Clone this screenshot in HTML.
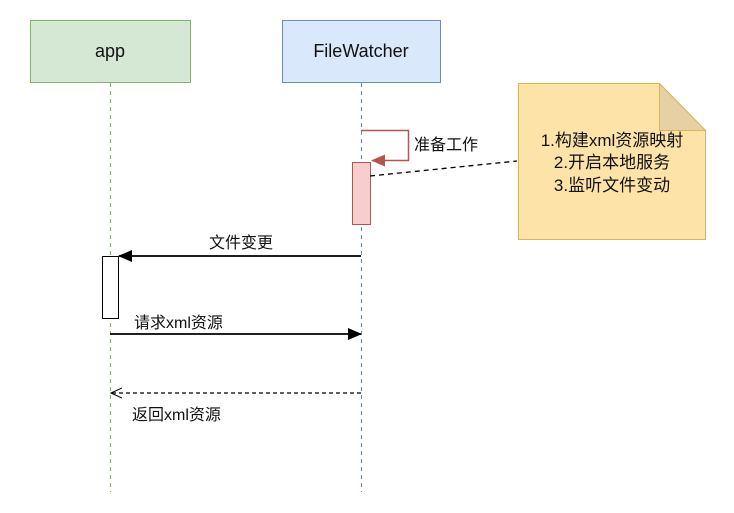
<!DOCTYPE html>
<html><head><meta charset="utf-8"><style>
body{margin:0;background:#fff;}
text{font-family:"Liberation Sans","Noto Sans CJK SC",sans-serif;fill:#111;}
</style></head><body>
<svg width="734" height="508" xmlns="http://www.w3.org/2000/svg">
<defs>
<marker id="fa" markerWidth="14" markerHeight="12" refX="13" refY="6" orient="auto" markerUnits="userSpaceOnUse"><path d="M0,0 L14,6 L0,12 Z" fill="#000"/></marker>
<marker id="ra" markerWidth="14" markerHeight="12" refX="13" refY="6" orient="auto" markerUnits="userSpaceOnUse"><path d="M0,0 L14,6 L0,12 Z" fill="#b85450"/></marker>
<marker id="oa" markerWidth="12" markerHeight="12" refX="11" refY="6" orient="auto" markerUnits="userSpaceOnUse"><path d="M0,1 L11,6 L0,11" fill="none" stroke="#000" stroke-width="1"/></marker>
</defs>
<rect x="30.5" y="20.5" width="160" height="62" fill="#d5e8d4" stroke="#82b366"/>
<text x="110" y="57" font-size="18" text-anchor="middle">app</text>
<rect x="282.5" y="20.5" width="158" height="62" fill="#dae8fc" stroke="#6c8ebf"/>
<text x="361" y="57" font-size="18" text-anchor="middle">FileWatcher</text>
<line x1="110.5" y1="83" x2="110.5" y2="492" stroke="#82b366" stroke-dasharray="4,4"/>
<line x1="361.5" y1="83" x2="361.5" y2="492" stroke="#6c8ebf" stroke-dasharray="4,4"/>
<path d="M361,130.5 H408.5 V160.5 H372" fill="none" stroke="#b85450" stroke-width="1.5" marker-end="url(#ra)"/>
<text x="414" y="150" font-size="16">准备工作</text>
<rect x="352.5" y="162.5" width="18" height="62" fill="#f8cecc" stroke="#b85450"/>
<line x1="370" y1="176" x2="517" y2="161" stroke="#000" stroke-width="1.3" stroke-dasharray="5,4"/>
<path d="M518.5,83.5 H659.5 L705.5,130.5 V239.5 H518.5 Z" fill="#fde3a8" stroke="#d6b656"/>
<path d="M659.5,83.5 V130.5 H705.5 Z" fill="#e6d0a4" stroke="#d6b656"/>
<text x="612" y="146" font-size="17" text-anchor="middle">1.构建xml资源映射</text>
<text x="612" y="168" font-size="17" text-anchor="middle">2.开启本地服务</text>
<text x="612" y="191" font-size="17" text-anchor="middle">3.监听文件变动</text>
<line x1="361" y1="256" x2="119" y2="256" stroke="#000" stroke-width="1.8" marker-end="url(#fa)"/>
<text x="241" y="248" font-size="16" text-anchor="middle">文件变更</text>
<rect x="102.5" y="256.5" width="16" height="62" fill="#fff" stroke="#000"/>
<line x1="110" y1="334" x2="361" y2="334" stroke="#000" stroke-width="1.8" marker-end="url(#fa)"/>
<text x="134" y="328" font-size="16">请求xml资源</text>
<line x1="361" y1="393" x2="111" y2="393" stroke="#000" stroke-width="1.2" stroke-dasharray="4,3" marker-end="url(#oa)"/>
<text x="132" y="420" font-size="16">返回xml资源</text>
</svg>
</body></html>
